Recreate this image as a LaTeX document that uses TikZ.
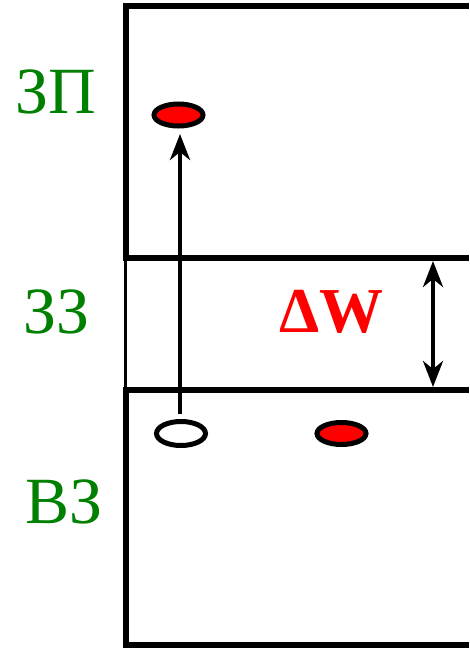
\documentclass[tikz,border=0pt]{standalone}
\usepackage{fontspec}
\setmainfont{Liberation Serif}
\usetikzlibrary{shapes.geometric,arrows.meta}
\definecolor{lblgreen}{RGB}{0,128,0}
\definecolor{lblred}{RGB}{255,0,0}
\tikzset{
  band/.style={line width=6pt},
  thinedge/.style={line width=2.2pt},
  particle/.style={ellipse, draw, line width=5pt, minimum width=49pt, minimum height=22pt, inner sep=0pt},
  electron/.style={particle, fill=lblred},
  hole/.style={particle, fill=white, minimum height=24pt},
  arr/.style={line width=4pt, -{Stealth[length=26pt,width=20pt,inset=8pt]}},
  darr/.style={line width=4pt, {Stealth[length=26pt,width=20pt,inset=8pt]}-{Stealth[length=26pt,width=20pt,inset=8pt]}},
  zone/.style={text=lblgreen, font=\fontsize{66}{66}\selectfont, anchor=base west, inner sep=0pt},
}
\begin{document}
\begin{tikzpicture}[x=1pt,y=-1pt]
\useasboundingbox (0,0) rectangle (469,648);
% conduction band
\draw[band] (469,6) -- (125.5,6) -- (125.5,258) -- (469,258);
% forbidden band edge
\draw[thinedge] (125.5,258) -- (125.5,390);
% valence band
\draw[band] (469,390) -- (125.5,390) -- (125.5,645) -- (469,645);
% labels
\node[zone] (lcb) at (15,113) {ЗП};
\node[zone] (lgap) at (23,333) {ЗЗ};
\node[zone] (lvb) at (25,523) {ВЗ};
\node[text=lblred, font=\bfseries\fontsize{64}{64}\selectfont, anchor=base west, inner sep=0pt] (dw) at (279,332) {ΔW};
% particles
\node[electron] (e1) at (178.5,115) {};
\node[hole] (h) at (181,433.5) {};
\node[electron] (e2) at (341.5,433.5) {};
% excitation arrow
\coordinate (hs) at (180,414);
\coordinate (et) at (180,134);
\draw[arr] (hs) -- (et);
% gap width arrow
\coordinate (gtop) at (433,261);
\coordinate (gbot) at (433,387);
\draw[darr] (gbot) -- (gtop);
\end{tikzpicture}
\end{document}
